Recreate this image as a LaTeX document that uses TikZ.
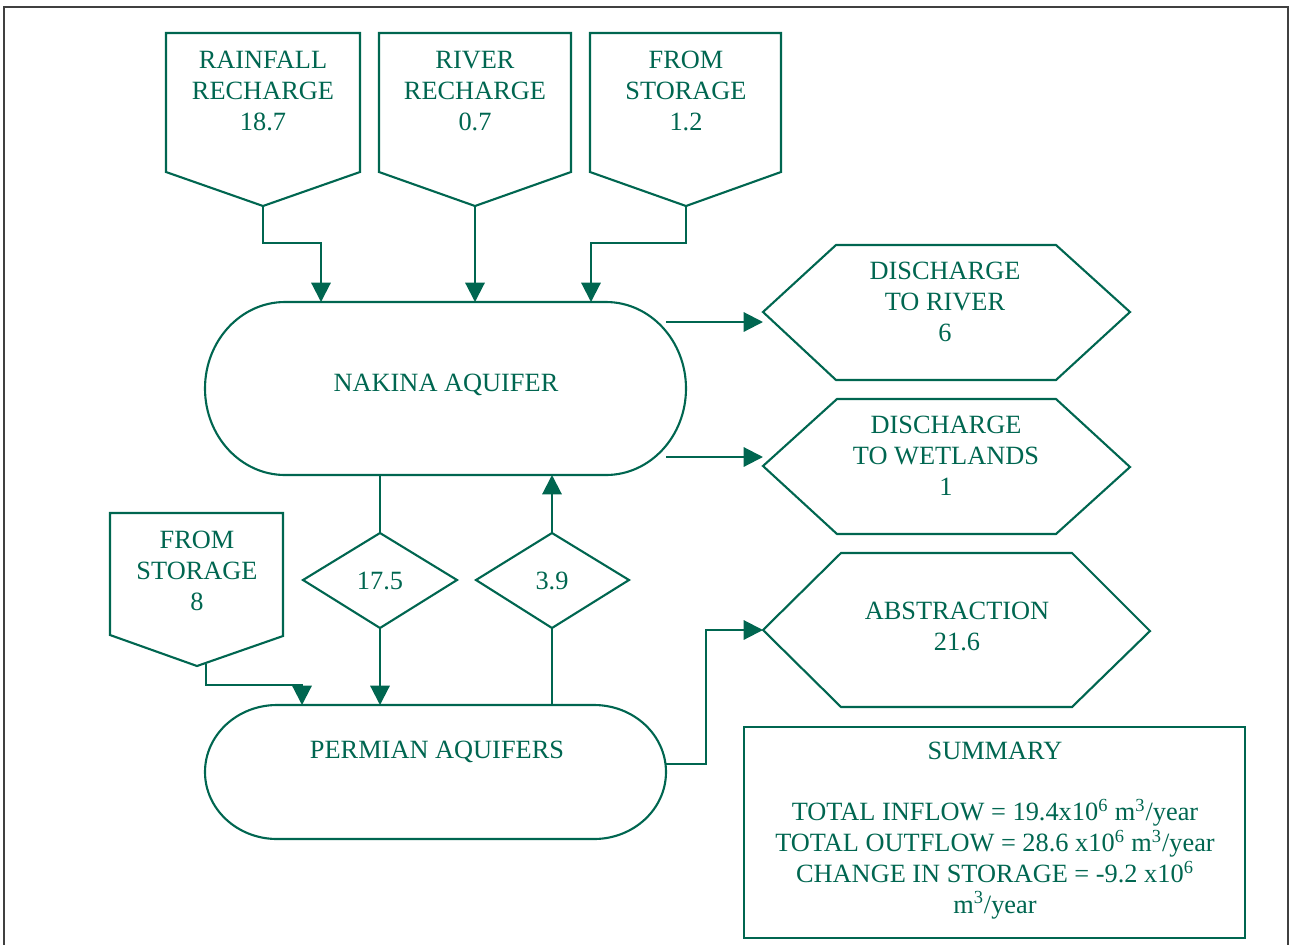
\documentclass[tikz,border=0pt]{standalone}
\usepackage{fontspec}
\setmainfont{Liberation Serif}
\usetikzlibrary{arrows.meta}
\definecolor{dg}{RGB}{0,102,80}
\begin{document}
\begin{tikzpicture}[x=0.02cm,y=-0.02cm,
  shp/.style={draw=dg,line width=1.2pt,line join=miter},
  conn/.style={draw=dg,line width=1.2pt},
  arr/.style={conn,-{Triangle[length=11pt,width=11pt]}},
  lbl/.style={text=dg,align=center,inner sep=0pt,font=\fontsize{15}{17.5}\selectfont,anchor=base}]
\useasboundingbox (0,0) rectangle (1289,944);
% outer frame
\draw[black!75,line width=1.1pt] (4,960) -- (4,7) -- (1288,7) -- (1288,960);

% top inflow pentagons
\draw[shp] (166,33) -- (360,33) -- (360,172) -- (263,206) coordinate (rainTip) -- (166,172) -- cycle;
\node[lbl] (rain) at (263,130) {RAINFALL\\RECHARGE\\18.7};
\draw[shp] (379,33) -- (571,33) -- (571,172) -- (475,206) coordinate (riverTip) -- (379,172) -- cycle;
\node[lbl] (river) at (475,130) {RIVER\\RECHARGE\\0.7};
\draw[shp] (590,33) -- (781,33) -- (781,172) -- (686,206) coordinate (stoTip) -- (590,172) -- cycle;
\node[lbl] (sto) at (686,130) {FROM\\STORAGE\\1.2};

% Nakina aquifer
\draw[shp] (285,302) -- (606,302) arc[start angle=-90,end angle=90,x radius=80,y radius=86.5]
  -- (285,475) arc[start angle=90,end angle=270,x radius=80,y radius=86.5] -- cycle;
\node[lbl] (nakina) at (446,391) {NAKINA AQUIFER};
\coordinate (nakIn1) at (321,302);
\coordinate (nakIn2) at (475,302);
\coordinate (nakIn3) at (591,302);
\coordinate (nakB1) at (380,475);
\coordinate (nakB2) at (552,475);
\coordinate (nakR1) at (666,322);
\coordinate (nakR2) at (666,457);

% Permian aquifers
\draw[shp] (277,705) -- (594,705) arc[start angle=-90,end angle=90,x radius=72,y radius=67]
  -- (277,839) arc[start angle=90,end angle=270,x radius=72,y radius=67] -- cycle;
\node[lbl] (permian) at (437,758) {PERMIAN AQUIFERS};
\coordinate (perT0) at (302,705);
\coordinate (perT1) at (380,705);
\coordinate (perT2) at (552,705);
\coordinate (perR) at (666,764);

% diamonds
\draw[shp] (303,580) -- (380,533) coordinate (d1N) -- (457,580) -- (380,628) coordinate (d1S) -- cycle;
\node[lbl] (d1) at (380,589) {17.5};
\draw[shp] (476,580) -- (552,533) coordinate (d2N) -- (629,580) -- (552,628) coordinate (d2S) -- cycle;
\node[lbl] (d2) at (552,589) {3.9};

% from storage 8
\draw[shp] (110,513) -- (283,513) -- (283,636) -- (197,666) coordinate (sto8Tip) -- (110,635) -- cycle;
\node[lbl] (sto8) at (197,610) {FROM\\STORAGE\\8};
\coordinate (sto8Out) at (206,664);

% hexagons
\draw[shp] (763,312) coordinate (hex1W) -- (836,245) -- (1056,245) -- (1130,312) -- (1056,380) -- (836,380) -- cycle;
\node[lbl] (hex1) at (945,341) {DISCHARGE\\TO RIVER\\6};
\draw[shp] (763,466) coordinate (hex2W) -- (837,399) -- (1056,399) -- (1130,467) -- (1056,534) -- (837,534) -- cycle;
\node[lbl] (hex2) at (946,495) {DISCHARGE\\TO WETLANDS\\1};
\draw[shp] (763,630) coordinate (hex3W) -- (841,553) -- (1072,553) -- (1150,631) -- (1072,707) -- (841,707) -- cycle;
\node[lbl] (hex3) at (957,650) {ABSTRACTION\\21.6};

% summary
\draw[shp] (744,727) rectangle (1245,938);
\node[lbl] (summary) at (995,913) {SUMMARY\\[17.5pt]
TOTAL INFLOW = 19.4x10\textsuperscript{6} m\textsuperscript{3}/year\\
TOTAL OUTFLOW = 28.6 x10\textsuperscript{6} m\textsuperscript{3}/year\\
CHANGE IN STORAGE = -9.2 x10\textsuperscript{6}\\
m\textsuperscript{3}/year};

% connectors
\draw[arr] (rainTip) -- ++(0,37) -| (nakIn1);
\draw[arr] (riverTip) -- (nakIn2);
\draw[arr] (stoTip) -- ++(0,37) -| (nakIn3);
\draw[arr] (nakR1) -- (hex1W |- nakR1);
\draw[arr] (nakR2) -- (hex2W |- nakR2);
\draw[conn] (nakB1) -- (d1N);
\draw[arr] (d1S) -- (perT1);
\draw[conn] (perT2) -- (d2S);
\draw[arr] (d2N) -- (nakB2);
\draw[arr] (sto8Out) -- ++(0,21) -| (perT0);
\draw[arr] (perR) -- ++(40,0) |- (hex3W);
\end{tikzpicture}
\end{document}
